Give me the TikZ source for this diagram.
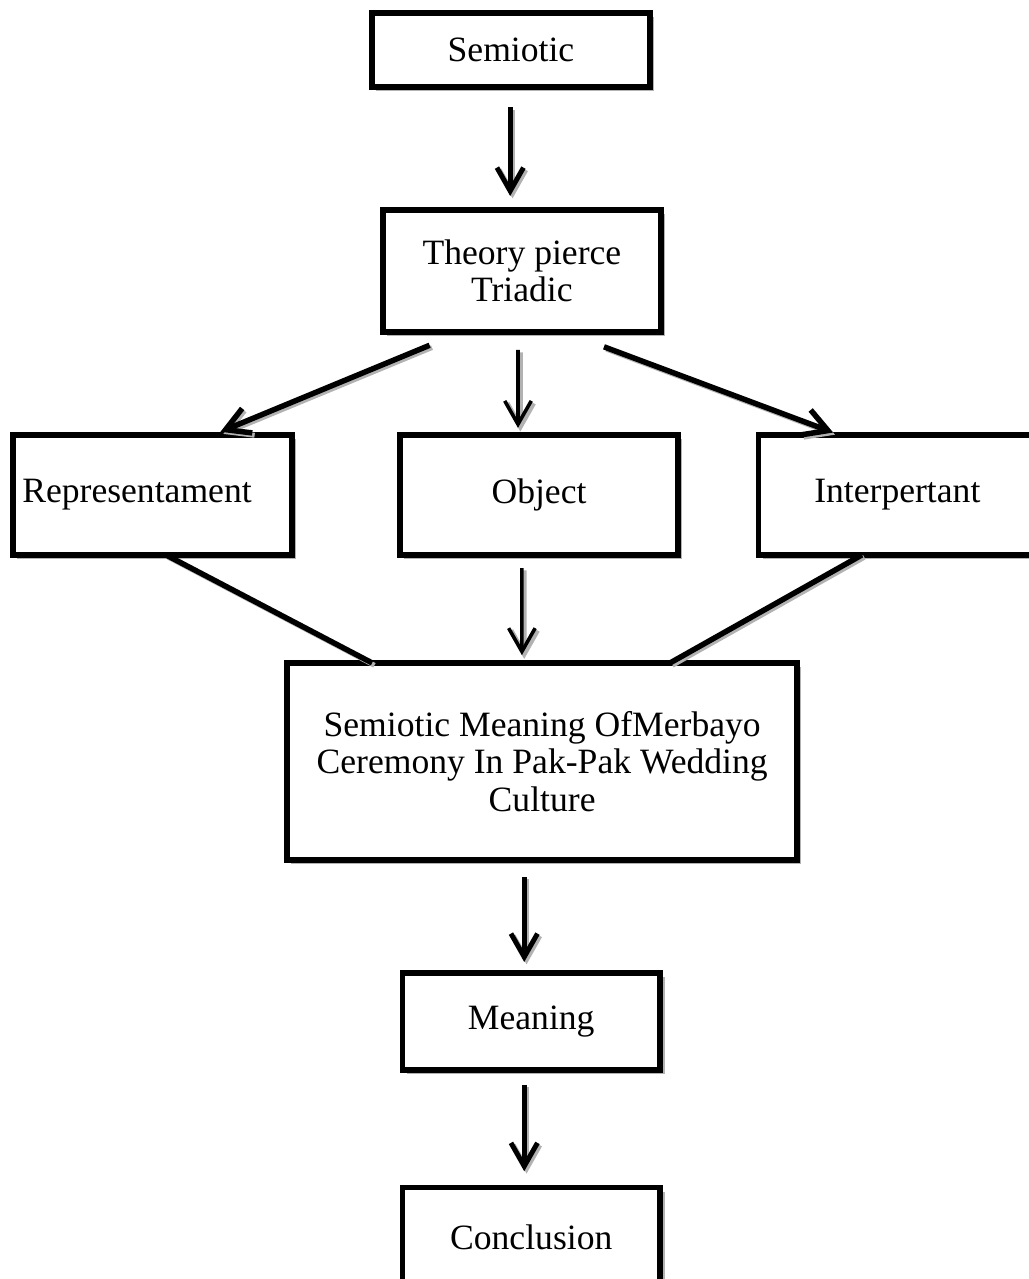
\documentclass[tikz,border=0pt]{standalone}
\usepackage{fontspec}
\setmainfont{Liberation Serif}
\usetikzlibrary{arrows.meta,calc,positioning,shadows}

\begin{document}
\begin{tikzpicture}[>={Straight Barb[length=0.30cm,width=0.34cm]}, line width=1.8pt, font=\fontsize{13}{13.6}\selectfont]

    \tikzstyle{box} = [rectangle, minimum width=3.567cm, minimum height=1.54cm, text centered, align=center, draw=black, line width=2pt, fill=white, outer sep=0pt, drop shadow={shadow xshift=0.055cm, shadow yshift=-0.055cm, fill=gray!60, opacity=1}]
    \tikzstyle{link} = [preaction={draw=gray!60, transform canvas={shift={(0.03cm,-0.03cm)}}}]

    \useasboundingbox (0,0) rectangle (13.20,-16.41);

    \node (sem)     [box, minimum height=0.949cm]                                   at (6.556,-0.642) {Semiotic};
    \node (theory)  [box, minimum height=1.565cm, below=1.578cm of sem, xshift=0.14cm]                {Theory pierce\\Triadic};

    \node (obj)     [box, below=1.32cm of theory, xshift=0.22cm]                                      {Object};
    \node (rep)     [box, left=1.386cm of obj]                                                        {Representament\hspace{0.4cm}};
    \node (interp)  [box, right=1.03cm of obj]                                                        {Interpertant};

    \node (sign)    [box, minimum width=6.543cm, minimum height=2.527cm, below=1.386cm of obj, xshift=0.04cm] {Semiotic Meaning OfMerbayo\\Ceremony In Pak-Pak Wedding\\Culture};

    \node (mean)    [box, minimum width=3.31cm, minimum height=1.245cm, below=1.45cm of sign, xshift=-0.14cm] {Meaning};
    \node (concl)   [box, minimum width=3.31cm, minimum height=1.283cm, below=1.51cm of mean]                {Conclusion};

    \draw[link, ->]                  ($(sem.south)+(-0.01,-0.26)$)          -- ($(theory.north)+(-0.15,0.18)$);

    \draw[link, ->, line width=2pt]   ($(theory.south west)+(0.60,-0.17)$)  -- ($(rep.north west)+(2.66,0.04)$);
    \draw[link, ->, line width=1.3pt] ($(theory.south)+(-0.05,-0.23)$)      -- ($(obj.north)+(-0.27,0.09)$);
    \draw[link, ->, line width=2pt]   ($(theory.south east)+(-0.73,-0.19)$) -- ($(interp.north west)+(0.96,0.03)$);

    \draw[link, line width=2pt]       ($(rep.south west)+(1.96,0)$)          -- ($(sign.north west)+(1.09,0)$);
    \draw[link, ->, line width=1.3pt] ($(obj.south)+(-0.22,-0.17)$)         -- ($(sign.north)+(-0.26,0.10)$);
    \draw[link, line width=2pt]       ($(interp.south west)+(1.33,0)$)       -- ($(sign.north east)+(-1.63,0)$);

    \draw[link, ->]                  ($(sign.south)+(-0.23,-0.22)$)         -- ($(mean.north)+(-0.09,0.14)$);
    \draw[link, ->]                  ($(mean.south)+(-0.09,-0.19)$)         -- ($(concl.north)+(-0.09,0.21)$);

\end{tikzpicture}
\end{document}
